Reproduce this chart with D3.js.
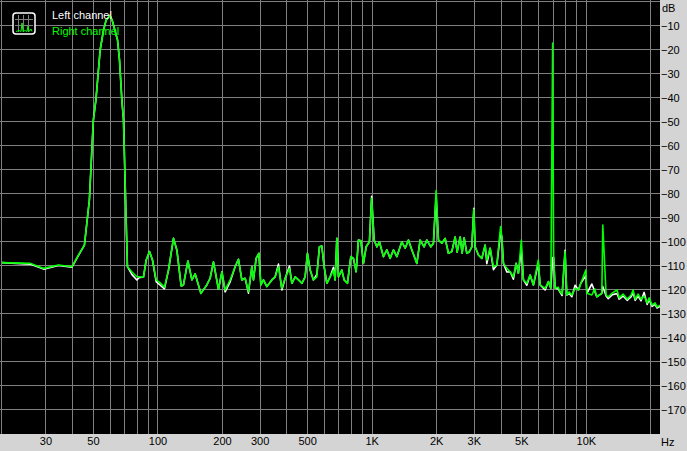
<!DOCTYPE html>
<html>
<head>
<meta charset="utf-8">
<script src="https://cdn.jsdelivr.net/npm/d3@7"></script>
<style>
  body { margin: 0; background: #d4d4d4; }
  svg { display: block; font-family: "Liberation Sans", Arial, sans-serif; font-size: 11px; }
</style>
</head>
<body>
<div id="chart"></div>
<script>
// spectrum points (Hz) shared by both channels
const freqHz = [
  18.8, 25.4, 29.4, 34.5, 39.9, 42.8, 45.6, 48.1, 50.2, 51.6,
  54.0, 56.0, 57.6, 60.0, 61.4, 65.1, 66.5, 68.2, 69.4, 71.0,
  72.4, 75.9, 80.1, 82.4, 86.0, 88.6, 91.8, 94.8, 98.6, 103,
  107.8, 112.6, 118.8, 123.2, 129, 132.3, 138.7, 144.8, 150, 159.5,
  170, 176.2, 182.6, 192.7, 200, 207, 218.5, 230.5, 238.9, 247.7,
  256.7, 266, 275.9, 280.7, 288.9, 297.4, 303.9, 312.5, 324.1, 342,
  354.4, 367.2, 380.9, 394.7, 413.3, 424.2, 439.5, 455.4, 472.2, 489.3,
  501.5, 516.3, 534.9, 554.9, 570.5, 585.4, 600, 617.8, 640.1, 663.3,
  675.4, 687.8, 699.8, 725.9, 744, 770.9, 799.6, 822.2, 846.5, 867.8,
  890.5, 915.6, 942.7, 976.5, 1000, 1027, 1058, 1087, 1135, 1178,
  1220, 1264, 1311, 1384, 1434, 1485, 1541, 1626, 1684, 1758,
  1810, 1890, 1943, 2000, 2051, 2127, 2204, 2283, 2368, 2454,
  2507, 2589, 2645, 2703, 2782, 2852, 2936, 3000, 3042, 3152,
  3270, 3388, 3450, 3575, 3704, 3842, 4000, 4053, 4124, 4278,
  4433, 4592, 4727, 4845, 5000, 5113, 5304, 5495, 5694, 6000,
  6119, 6457, 6690, 6865, 7000, 7075,
  7190, 7424, 7586, 7750, 8000, 8152, 8360, 8604, 8913, 9237,
  9478, 10000, 10110, 10670, 11000, 11250, 11880, 12000, 12440, 12710,
  13270, 14000, 14310, 14930, 15590, 16280, 16630, 17000, 17540, 18110,
  18720, 19330, 19750, 20400, 21060, 21510, 22220
];

const rightDb = [
  -108.6, -108.9, -111.0, -109.6, -110.3, -105.4, -101.3, -82.5, -49.2, -40.8,
  -20.0, -11.7, -7.5, -5.6, -7.5, -15.8, -24.2, -40.8, -49.2, -82.5,
  -110.3, -112.4, -114.5, -114.5, -114.7, -107.5, -104.0, -107.5, -115.8, -117.0,
  -118.9, -111.7, -98.5, -103.3, -118.3, -117.9, -107.9, -115.8, -113.3, -121.4,
  -117.9, -115.1, -108.3, -119.7, -112.4, -120.0, -115.8, -110.3, -107.2, -115.8,
  -115.1, -120.7, -110.3, -115.8, -106.8, -104.7, -117.9, -115.8, -118.6, -115.8,
  -114.5, -110.3, -119.3, -115.1, -111.0, -117.2, -114.5, -115.8, -117.2, -114.5,
  -104.7, -111.7, -115.8, -114.5, -102.0, -101.7, -110.3, -117.2, -114.5, -111.7,
  -115.8, -98.5, -114.5, -111.7, -115.8, -117.2, -106.1, -106.8, -112.4, -99.2,
  -99.5, -108.9, -102.0, -99.9, -81.8, -99.2, -102.0, -99.9, -106.1, -103.3,
  -106.8, -103.3, -106.1, -99.9, -102.6, -99.2, -103.3, -108.9, -99.2, -102.0,
  -99.2, -102.0, -100.5, -78.6, -99.2, -100.5, -98.5, -104.7, -104.0, -97.9,
  -104.2, -97.9, -104.6, -98.3, -104.7, -104.2, -102.0, -86.4, -102.0, -105.4,
  -106.8, -101.3, -107.5, -102.6, -110.3, -109.6, -93.6, -97.8, -108.9, -111.0,
  -112.4, -114.5, -108.9, -113.0, -99.2, -115.8, -117.2, -113.8, -117.9, -107.5,
  -117.9, -119.3, -116.5, -119.3, -17.1, -106.1,
  -119.3, -118.8, -120.7, -121.7, -104.0, -122.1, -120.8, -122.1, -119.3, -120.0,
  -117.2, -111.7, -121.4, -122.1, -119.5, -122.8, -121.4, -92.9, -122.1, -122.9,
  -121.3, -120.0, -123.3, -121.7, -123.8, -122.1, -120.0, -123.8, -121.7, -123.8,
  -122.5, -125.4, -123.3, -126.3, -125.4, -127.1, -126.3
];

const leftDb = [
  -108.6, -109.2, -111.3, -109.8, -110.5, -105.6, -101.3, -82.5, -49.2, -40.8,
  -20.0, -11.7, -7.5, -5.6, -7.5, -15.8, -24.2, -40.8, -49.2, -82.5,
  -110.3, -113.5, -115.8, -114.8, -114.7, -107.5, -104.0, -107.5, -116.5, -118.0,
  -119.5, -111.7, -98.5, -103.3, -118.3, -117.9, -107.9, -115.8, -113.3, -121.4,
  -117.9, -115.1, -108.3, -119.7, -112.4, -120.8, -116.6, -110.3, -107.2, -115.8,
  -115.1, -121.3, -110.3, -115.8, -106.8, -104.7, -117.9, -115.8, -118.6, -115.8,
  -114.5, -109.2, -120.0, -115.1, -110.0, -117.2, -114.5, -115.8, -117.2, -114.5,
  -104.7, -111.7, -115.8, -113.5, -102.0, -101.7, -110.3, -117.2, -114.5, -110.5,
  -115.8, -98.5, -114.5, -111.7, -115.8, -117.2, -106.1, -106.8, -112.4, -99.2,
  -99.5, -108.9, -102.0, -99.9, -81.0, -99.2, -102.0, -99.9, -106.1, -103.3,
  -106.8, -103.3, -106.1, -99.9, -102.6, -99.2, -103.3, -108.9, -99.2, -102.0,
  -99.2, -102.0, -100.5, -80.5, -99.2, -100.5, -98.5, -104.7, -104.0, -97.9,
  -104.2, -97.9, -104.6, -98.3, -104.7, -104.2, -102.0, -86.0, -102.0, -105.4,
  -106.8, -101.3, -109.0, -102.6, -111.5, -109.6, -96.0, -97.8, -108.9, -112.5,
  -112.4, -115.5, -108.9, -113.0, -103.0, -115.8, -118.0, -113.8, -117.9, -109.0,
  -117.9, -120.0, -116.5, -119.3, -106.5, -106.5,
  -119.3, -119.5, -121.0, -122.3, -103.5, -122.1, -121.5, -122.8, -118.0, -120.0,
  -117.2, -114.0, -121.4, -117.5, -120.5, -122.8, -121.4, -118.5, -122.5, -123.6,
  -122.0, -121.5, -123.8, -122.5, -124.3, -122.8, -121.2, -124.3, -122.5, -124.5,
  -121.0, -126.0, -124.0, -126.8, -126.0, -127.5, -126.8
];

const gridFreqs = [
  30, 40, 50, 60, 70, 80, 90, 100, 200, 300, 400, 500, 600, 700, 800, 900,
  1000, 2000, 3000, 4000, 5000, 6000, 7000, 8000, 9000, 10000, 20000
];
const xLabelValues = [30, 50, 100, 200, 300, 500, 1000, 2000, 3000, 5000, 10000];
const xLabels = ["30", "50", "100", "200", "300", "500", "1K", "2K", "3K", "5K", "10K"];
const gridDb = [0, -10, -20, -30, -40, -50, -60, -70, -80, -90, -100, -110, -120, -130, -140, -150, -160, -170];
const yLabelValues = [-10, -20, -30, -40, -50, -60, -70, -80, -90, -100, -110, -120, -130, -140, -150, -160, -170];
const seriesNames = ["Left channel", "Right channel"];

const width = 687;
const height = 451;
const plot = { left: 0, top: 0, right: 660, bottom: 434 };
const gridColor = "#808080";
const leftColor = "#ffffff";
const rightColor = "#00ff00";

const xScale = d3.scaleLog().domain([18.8, 22200]).range([2, 660]);
const yScale = d3.scaleLinear().domain([0, -180]).range([2, 434]);

const svg = d3
  .select("#chart")
  .append("svg")
  .attr("width", width)
  .attr("height", height);

svg
  .append("rect")
  .attr("width", width)
  .attr("height", height)
  .attr("fill", "#d4d4d4");

svg
  .append("rect")
  .attr("x", plot.left)
  .attr("y", plot.top)
  .attr("width", plot.right - plot.left)
  .attr("height", plot.bottom - plot.top)
  .attr("fill", "#000");

const crisp = (v) => Math.round(v) + 0.5;

// grid
const grid = svg.append("g").attr("stroke", gridColor).attr("stroke-width", 1);
grid
  .selectAll(".vgrid")
  .data(gridFreqs)
  .join("line")
  .attr("class", "vgrid")
  .attr("x1", (d) => crisp(xScale(d)))
  .attr("x2", (d) => crisp(xScale(d)))
  .attr("y1", plot.top)
  .attr("y2", plot.bottom);
grid
  .selectAll(".hgrid")
  .data(gridDb)
  .join("line")
  .attr("class", "hgrid")
  .attr("x1", plot.left)
  .attr("x2", plot.right)
  .attr("y1", (d) => crisp(yScale(d)) - 1)
  .attr("y2", (d) => crisp(yScale(d)) - 1);
grid
  .append("line")
  .attr("x1", 1.5)
  .attr("x2", 1.5)
  .attr("y1", plot.top)
  .attr("y2", plot.bottom);

// lines
const lineGen = (values) =>
  d3
    .line()
    .x((d, i) => xScale(freqHz[i]))
    .y((d) => yScale(d))(values);

svg
  .append("path")
  .attr("fill", "none")
  .attr("stroke", leftColor)
  .attr("stroke-width", 1.6)
  .attr("stroke-linejoin", "round")
  .attr("d", lineGen(leftDb));

svg
  .append("path")
  .attr("fill", "none")
  .attr("stroke", rightColor)
  .attr("stroke-width", 1.6)
  .attr("stroke-linejoin", "round")
  .attr("d", lineGen(rightDb));

// axes
const xAxis = svg
  .append("g")
  .attr("transform", `translate(0, ${plot.bottom})`)
  .call(
    d3
      .axisBottom(xScale)
      .tickValues(xLabelValues)
      .tickFormat((d, i) => xLabels[i])
      .tickSize(0)
      .tickPadding(3)
  );
xAxis.select(".domain").remove();
xAxis.selectAll("text").attr("fill", "#000").style("font-size", "11px").style("font-family", "Liberation Sans, Arial, sans-serif");

const yAxis = svg
  .append("g")
  .attr("transform", `translate(${plot.right}, 0)`)
  .call(d3.axisRight(yScale).tickValues(yLabelValues).tickSize(0).tickPadding(1));
yAxis.select(".domain").remove();
yAxis.selectAll("text").attr("fill", "#000").style("font-size", "11px").style("font-family", "Liberation Sans, Arial, sans-serif");

svg.append("text").attr("x", 662).attr("y", 12).attr("fill", "#000").text("dB");
svg.append("text").attr("x", 661).attr("y", 446).attr("fill", "#000").text("Hz");

// legend
const legend = svg.append("g").attr("transform", "translate(13, 13)");
legend
  .append("rect")
  .attr("width", 22)
  .attr("height", 21)
  .attr("rx", 3)
  .attr("fill", "#000")
  .attr("stroke", "#fff")
  .attr("stroke-width", 1.5);
legend
  .selectAll(".icon-grid-v")
  .data([5.5, 10.5, 15.5])
  .join("line")
  .attr("x1", (d) => d)
  .attr("x2", (d) => d)
  .attr("y1", 2)
  .attr("y2", 19)
  .attr("stroke", gridColor);
legend
  .selectAll(".icon-grid-h")
  .data([6.5, 12.5])
  .join("line")
  .attr("x1", 2)
  .attr("x2", 20)
  .attr("y1", (d) => d)
  .attr("y2", (d) => d)
  .attr("stroke", gridColor);
legend
  .append("path")
  .attr("fill", "none")
  .attr("stroke", rightColor)
  .attr("stroke-width", 1)
  .attr("d", "M3,18.5 L6,17.5 L8,18.5 L9,10 L10,18.5 L12,17.5 L14,18.5 L15,13 L16,18.5 L18,16 L19,18.5");

svg
  .selectAll(".legend-text")
  .data(seriesNames)
  .join("text")
  .attr("class", "legend-text")
  .attr("x", 52)
  .attr("y", (d, i) => 19 + i * 16)
  .attr("fill", (d, i) => (i === 0 ? leftColor : rightColor))
  .text((d) => d);
</script>
</body>
</html>
